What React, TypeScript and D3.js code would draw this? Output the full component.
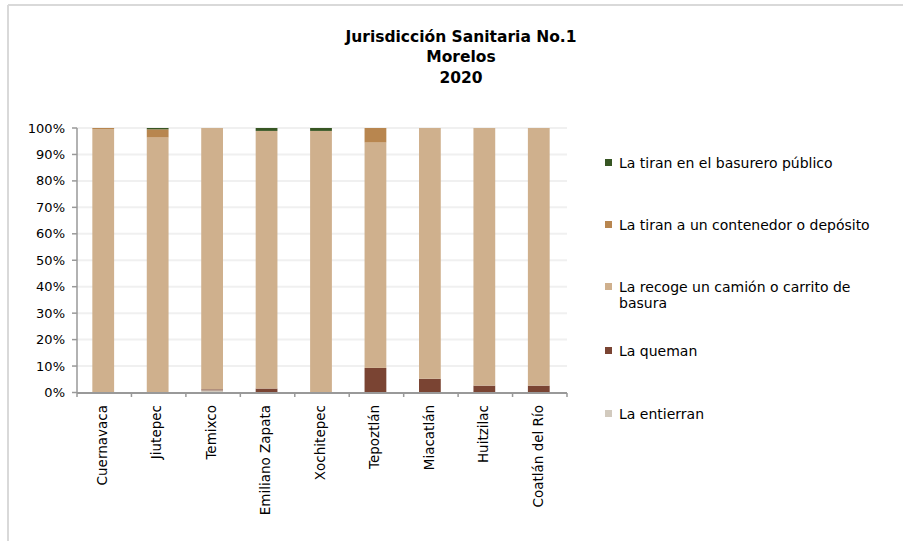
import React from "react";
import * as d3 from "d3";

const categories = ["Cuernavaca", "Jiutepec", "Temixco", "Emiliano Zapata", "Xochitepec", "Tepoztlán", "Miacatlán", "Huitzilac", "Coatlán del Río"];
const entierran = [0, 0, 0.8, 0, 0, 0, 0, 0, 0];
const queman = [0, 0, 0.4, 1.5, 0, 9.3, 5.2, 2.6, 2.6];
const recoge = [99.6, 96.4, 98.8, 97.4, 98.9, 85.2, 94.8, 97.4, 97.4];
const contenedor = [0.4, 3.1, 0, 0, 0, 5.5, 0, 0, 0];
const basurero = [0, 0.5, 0, 1.1, 1.1, 0, 0, 0, 0];
const yTicks = [0, 10, 20, 30, 40, 50, 60, 70, 80, 90, 100];

const seriesNames = ["La entierran", "La queman", "La recoge un camión o carrito de basura", "La tiran a un contenedor o depósito", "La tiran en el basurero público"];
const seriesValues = [entierran, queman, recoge, contenedor, basurero];
const colors = ["#D2CABE", "#7A4433", "#CFB08D", "#B8864F", "#375623"];

const FONT = "'DejaVu Sans', Verdana, sans-serif";

export default function App() {
  const x = d3.scaleBand<string>().domain(categories).range([77, 567]).paddingInner(0.6).paddingOuter(0.3);
  const y = d3.scaleLinear().domain([0, 100]).range([392.5, 128]);
  const rows = categories.map((c, i) => {
    const r: any = { cat: c };
    seriesNames.forEach((s, k) => (r[s] = seriesValues[k][i]));
    return r;
  });
  const stack = d3.stack<any>().keys(seriesNames)(rows);
  const legendItems = [
    { name: seriesNames[4], lines: ["La tiran en el basurero público"], y: 163, c: colors[4] },
    { name: seriesNames[3], lines: ["La tiran a un contenedor o depósito"], y: 225, c: colors[3] },
    { name: seriesNames[2], lines: ["La recoge un camión o carrito de", "basura"], y: 287, c: colors[2] },
    { name: seriesNames[1], lines: ["La queman"], y: 351, c: colors[1] },
    { name: seriesNames[0], lines: ["La entierran"], y: 414, c: colors[0] },
  ];
  const boundaries = d3.range(categories.length + 1).map((i) => 77 + i * (490 / categories.length));
  return (
    <svg width={903} height={541} style={{ position: "absolute", left: 0, top: 0 }} fontFamily={FONT}>
      <rect x={0} y={0} width={903} height={541} fill="#fff" />
      <line x1={8} y1={5} x2={903} y2={5} stroke="#d9d9d9" strokeWidth={2} />
      <line x1={8} y1={5} x2={8} y2={541} stroke="#d9d9d9" strokeWidth={2} />
      <g textAnchor="middle" fontWeight="bold" fontSize={15.5} fill="#000">
        <text x={461} y={42}>Jurisdicción Sanitaria No.1</text>
        <text x={461} y={62}>Morelos</text>
        <text x={461} y={83}>2020</text>
      </g>
      {yTicks.map((t) => (
        <g key={t}>
          {t > 0 && <line x1={77} x2={567} y1={y(t)} y2={y(t)} stroke="#f0f0f0" strokeWidth={2} />}
          <line x1={72} x2={77} y1={y(t)} y2={y(t)} stroke="#999" strokeWidth={1.5} />
          <text x={65} y={y(t)} dy="0.35em" textAnchor="end" fontSize={13} fill="#000">{t}%</text>
        </g>
      ))}
      {stack.map((s, k) => (
        <g key={k} fill={colors[k]}>
          {s.map((d, i) => {
            const h = y(d[0]) - y(d[1]);
            if (h <= 0) return null;
            return <rect key={i} x={(x(categories[i]) as number) - 1} width={x.bandwidth()} y={y(d[1])} height={h} />;
          })}
        </g>
      ))}
      <line x1={77} x2={77} y1={128} y2={393} stroke="#999" strokeWidth={1.5} />
      <line x1={77} x2={567} y1={393} y2={393} stroke="#999" strokeWidth={2} />
      {boundaries.map((b, i) => (
        <line key={i} x1={b} x2={b} y1={393} y2={397} stroke="#999" strokeWidth={1.5} />
      ))}
      {categories.map((c) => {
        const cx = (x(c) as number) + x.bandwidth() / 2 - 2;
        return (
          <text key={c} transform={`translate(${cx},405) rotate(-90)`} textAnchor="end" dy="0.35em" fontSize={13.5} fill="#000">
            {c}
          </text>
        );
      })}
      {legendItems.map((l) => (
        <g key={l.name}>
          <rect x={605} y={l.y - 4} width={7} height={7} fill={l.c} />
          {l.lines.map((ln, j) => (
            <text key={j} x={619} y={l.y + j * 16.5} dy="0.35em" fontSize={14} fill="#000">{ln}</text>
          ))}
        </g>
      ))}
    </svg>
  );
}
